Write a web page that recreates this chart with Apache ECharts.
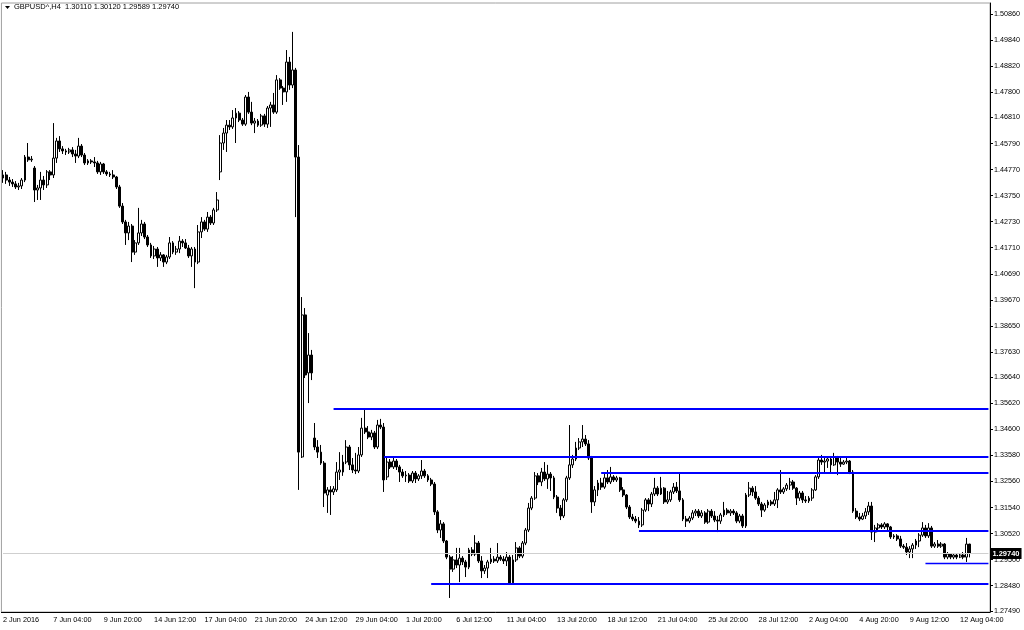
<!DOCTYPE html>
<html>
<head>
<meta charset="utf-8">
<title>GBPUSD^,H4</title>
<script src="https://cdn.jsdelivr.net/npm/echarts@6/dist/echarts.min.js"></script>
<style>
html, body { margin: 0; padding: 0; background: #fff; }
#main { width: 1024px; height: 630px; }
</style>
</head>
<body>
<div id="main"></div>
<script>
var symbolName = 'GBPUSD^,H4';

// every 16th H4 bar gets a time label, bar 0 = 2 Jun 2016 12:00
var timeLabels = ['2 Jun 2016', '7 Jun 04:00', '9 Jun 20:00', '14 Jun 12:00', '17 Jun 04:00',
  '21 Jun 20:00', '24 Jun 12:00', '29 Jun 04:00', '1 Jul 20:00', '6 Jul 12:00',
  '11 Jul 04:00', '13 Jul 20:00', '18 Jul 12:00', '21 Jul 04:00', '25 Jul 20:00',
  '28 Jul 12:00', '2 Aug 04:00', '4 Aug 20:00', '9 Aug 12:00', '12 Aug 04:00'];

var priceTicks = [1.27490, 1.28480, 1.29500, 1.30520, 1.31540, 1.32560, 1.33580, 1.34600,
  1.35620, 1.36640, 1.37630, 1.38650, 1.39670, 1.40690, 1.41710, 1.42730, 1.43750,
  1.44770, 1.45790, 1.46810, 1.47800, 1.48820, 1.49840, 1.50860];

var bid = 1.29740;

// horizontal support / resistance lines and the bar they start from
var levels       = [1.3540, 1.3352, 1.3289, 1.3064, 1.2937, 1.2855];
var levelFromBar = [105, 121, 190, 202, 293, 136];

// open, high, low, close
var ohlc = [
  [1.4444,1.4475,1.4425,1.4456],[1.4456,1.4468,1.4421,1.4436],[1.4436,1.4448,1.4413,1.4428],[1.4428,1.4440,1.4409,1.4421],
  [1.4421,1.4432,1.4401,1.4409],[1.4409,1.4425,1.4397,1.4413],[1.4413,1.4444,1.4401,1.4436],[1.4436,1.4534,1.4428,1.4526],
  [1.4526,1.4581,1.4507,1.4515],[1.4515,1.4530,1.4507,1.4518],[1.4483,1.4491,1.4350,1.4397],[1.4397,1.4417,1.4358,1.4405],
  [1.4405,1.4468,1.4358,1.4436],[1.4436,1.4452,1.4397,1.4417],[1.4417,1.4475,1.4405,1.4468],[1.4468,1.4475,1.4436,1.4456],
  [1.4456,1.4659,1.4444,1.4522],[1.4522,1.4601,1.4503,1.4589],[1.4589,1.4608,1.4546,1.4558],[1.4558,1.4569,1.4538,1.4550],
  [1.4550,1.4558,1.4534,1.4546],[1.4546,1.4562,1.4538,1.4554],[1.4554,1.4565,1.4526,1.4538],[1.4538,1.4554,1.4503,1.4530],
  [1.4530,1.4601,1.4522,1.4569],[1.4569,1.4577,1.4526,1.4534],[1.4534,1.4542,1.4495,1.4503],[1.4503,1.4518,1.4495,1.4511],
  [1.4511,1.4518,1.4499,1.4507],[1.4507,1.4526,1.4487,1.4503],[1.4503,1.4511,1.4460,1.4468],[1.4468,1.4507,1.4456,1.4499],
  [1.4499,1.4503,1.4460,1.4468],[1.4468,1.4475,1.4452,1.4460],[1.4460,1.4468,1.4448,1.4456],[1.4456,1.4475,1.4440,1.4448],
  [1.4448,1.4452,1.4401,1.4409],[1.4409,1.4417,1.4327,1.4334],[1.4334,1.4346,1.4264,1.4272],[1.4272,1.4280,1.4182,1.4229],
  [1.4229,1.4272,1.4201,1.4256],[1.4256,1.4264,1.4115,1.4154],[1.4154,1.4201,1.4143,1.4190],[1.4190,1.4327,1.4182,1.4229],
  [1.4229,1.4280,1.4217,1.4264],[1.4264,1.4272,1.4205,1.4213],[1.4213,1.4221,1.4174,1.4182],[1.4182,1.4190,1.4131,1.4139],
  [1.4139,1.4178,1.4127,1.4166],[1.4166,1.4174,1.4096,1.4131],[1.4131,1.4154,1.4119,1.4143],[1.4143,1.4146,1.4096,1.4115],
  [1.4115,1.4143,1.4107,1.4135],[1.4135,1.4213,1.4127,1.4190],[1.4190,1.4197,1.4146,1.4154],[1.4154,1.4178,1.4143,1.4166],
  [1.4166,1.4217,1.4150,1.4197],[1.4197,1.4205,1.4174,1.4190],[1.4190,1.4205,1.4166,1.4170],[1.4170,1.4182,1.4131,1.4139],
  [1.4139,1.4174,1.4096,1.4166],[1.4166,1.4174,1.4013,1.4115],[1.4115,1.4260,1.4107,1.4233],[1.4233,1.4291,1.4209,1.4272],
  [1.4272,1.4280,1.4237,1.4244],[1.4244,1.4311,1.4233,1.4291],[1.4291,1.4299,1.4260,1.4268],[1.4268,1.4327,1.4260,1.4319],
  [1.4319,1.4389,1.4311,1.4358],[1.4468,1.4612,1.4436,1.4581],[1.4581,1.4640,1.4554,1.4620],[1.4620,1.4671,1.4546,1.4651],
  [1.4651,1.4671,1.4632,1.4644],[1.4644,1.4710,1.4636,1.4679],[1.4679,1.4718,1.4581,1.4698],[1.4698,1.4706,1.4663,1.4671],
  [1.4671,1.4679,1.4648,1.4655],[1.4655,1.4769,1.4648,1.4761],[1.4761,1.4781,1.4695,1.4702],[1.4702,1.4742,1.4651,1.4659],
  [1.4659,1.4679,1.4620,1.4667],[1.4667,1.4675,1.4644,1.4651],[1.4651,1.4695,1.4644,1.4687],[1.4687,1.4695,1.4644,1.4655],
  [1.4655,1.4726,1.4640,1.4718],[1.4718,1.4742,1.4644,1.4730],[1.4730,1.4777,1.4695,1.4702],[1.4702,1.4847,1.4695,1.4828],
  [1.4828,1.4835,1.4789,1.4796],[1.4796,1.4804,1.4730,1.4781],[1.4781,1.4945,1.4742,1.4898],[1.4898,1.4918,1.4789,1.4808],
  [1.4808,1.5016,1.4796,1.4867],[1.4867,1.4875,1.4291,1.4526],[1.4526,1.4573,1.3223,1.3371],[1.3352,1.3978,1.3348,1.3908],
  [1.3908,1.3935,1.3661,1.3673],[1.3681,1.3837,1.3563,1.3751],[1.3751,1.3771,1.3653,1.3681],[1.3426,1.3485,1.3379,1.3391],
  [1.3391,1.3418,1.3348,1.3371],[1.3371,1.3399,1.3321,1.3328],[1.3328,1.3336,1.3156,1.3211],[1.3203,1.3234,1.3133,1.3223],
  [1.3223,1.3238,1.3125,1.3215],[1.3215,1.3238,1.3203,1.3227],[1.3223,1.3332,1.3215,1.3293],[1.3293,1.3371,1.3262,1.3301],
  [1.3293,1.3360,1.3278,1.3332],[1.3332,1.3418,1.3324,1.3391],[1.3391,1.3399,1.3301,1.3321],[1.3321,1.3348,1.3289,1.3301],
  [1.3301,1.3368,1.3285,1.3297],[1.3297,1.3391,1.3289,1.3360],[1.3360,1.3505,1.3352,1.3465],[1.3465,1.3536,1.3442,1.3450],
  [1.3450,1.3473,1.3422,1.3430],[1.3430,1.3458,1.3418,1.3446],[1.3446,1.3454,1.3383,1.3391],[1.3391,1.3497,1.3383,1.3477],
  [1.3477,1.3501,1.3461,1.3469],[1.3469,1.3485,1.3215,1.3262],[1.3274,1.3348,1.3262,1.3332],[1.3332,1.3344,1.3305,1.3313],
  [1.3313,1.3348,1.3305,1.3336],[1.3336,1.3344,1.3301,1.3313],[1.3313,1.3321,1.3254,1.3293],[1.3293,1.3305,1.3270,1.3278],
  [1.3278,1.3297,1.3254,1.3281],[1.3281,1.3289,1.3250,1.3258],[1.3258,1.3297,1.3250,1.3289],[1.3289,1.3297,1.3250,1.3266],
  [1.3266,1.3285,1.3258,1.3278],[1.3278,1.3340,1.3266,1.3297],[1.3297,1.3305,1.3270,1.3278],[1.3278,1.3285,1.3254,1.3262],
  [1.3262,1.3270,1.3238,1.3246],[1.3246,1.3254,1.3125,1.3137],[1.3137,1.3144,1.3054,1.3066],[1.3066,1.3105,1.3035,1.3090],
  [1.3090,1.3097,1.3015,1.3023],[1.3023,1.3027,1.2952,1.2960],[1.2960,1.2968,1.2800,1.2913],[1.2913,1.2964,1.2902,1.2949],
  [1.2949,1.2996,1.2917,1.2929],[1.2929,1.2996,1.2862,1.2956],[1.2956,1.2964,1.2929,1.2941],[1.2941,1.2949,1.2882,1.2921],
  [1.2921,1.2996,1.2913,1.2988],[1.2988,1.2999,1.2964,1.2972],[1.2972,1.3046,1.2964,1.3015],[1.3015,1.3023,1.2937,1.2945],
  [1.2945,1.2964,1.2878,1.2906],[1.2906,1.2929,1.2894,1.2917],[1.2917,1.2949,1.2878,1.2941],[1.2941,1.2996,1.2933,1.2952],
  [1.2952,1.2964,1.2937,1.2945],[1.2945,1.3015,1.2937,1.2960],[1.2960,1.2968,1.2945,1.2952],[1.2952,1.2964,1.2933,1.2945],
  [1.2945,1.2980,1.2925,1.2960],[1.2960,1.2968,1.2851,1.2859],[1.2859,1.2968,1.2851,1.2949],[1.2949,1.3019,1.2941,1.2996],
  [1.2996,1.3003,1.2956,1.2964],[1.2964,1.3023,1.2956,1.3015],[1.3015,1.3074,1.3007,1.3066],[1.3066,1.3172,1.3058,1.3152],
  [1.3152,1.3199,1.3144,1.3191],[1.3191,1.3293,1.3184,1.3278],[1.3278,1.3289,1.3242,1.3254],[1.3254,1.3309,1.3238,1.3293],
  [1.3293,1.3332,1.3258,1.3266],[1.3266,1.3321,1.3227,1.3285],[1.3285,1.3293,1.3219,1.3270],[1.3270,1.3278,1.3187,1.3195],
  [1.3195,1.3203,1.3133,1.3152],[1.3152,1.3164,1.3105,1.3121],[1.3121,1.3191,1.3113,1.3184],[1.3184,1.3278,1.3176,1.3270],
  [1.3270,1.3477,1.3262,1.3321],[1.3321,1.3360,1.3309,1.3344],[1.3344,1.3411,1.3336,1.3387],[1.3387,1.3426,1.3379,1.3411],
  [1.3411,1.3477,1.3391,1.3422],[1.3422,1.3438,1.3395,1.3403],[1.3403,1.3418,1.3340,1.3348],[1.3348,1.3356,1.3133,1.3176],
  [1.3176,1.3238,1.3160,1.3223],[1.3223,1.3262,1.3199,1.3250],[1.3250,1.3270,1.3223,1.3234],[1.3234,1.3289,1.3227,1.3270],
  [1.3270,1.3301,1.3246,1.3254],[1.3254,1.3313,1.3246,1.3274],[1.3274,1.3281,1.3254,1.3262],[1.3262,1.3278,1.3254,1.3270],
  [1.3270,1.3274,1.3215,1.3223],[1.3223,1.3234,1.3195,1.3203],[1.3203,1.3207,1.3148,1.3156],[1.3156,1.3164,1.3109,1.3117],
  [1.3117,1.3129,1.3101,1.3109],[1.3109,1.3121,1.3093,1.3101],[1.3101,1.3117,1.3074,1.3086],[1.3086,1.3152,1.3078,1.3144],
  [1.3144,1.3191,1.3137,1.3184],[1.3184,1.3191,1.3140,1.3168],[1.3168,1.3215,1.3156,1.3207],[1.3207,1.3270,1.3199,1.3230],
  [1.3230,1.3238,1.3199,1.3207],[1.3207,1.3274,1.3203,1.3230],[1.3230,1.3234,1.3168,1.3176],[1.3176,1.3219,1.3168,1.3184],
  [1.3184,1.3223,1.3176,1.3215],[1.3215,1.3250,1.3207,1.3234],[1.3234,1.3254,1.3211,1.3219],[1.3219,1.3289,1.3176,1.3184],
  [1.3184,1.3191,1.3101,1.3109],[1.3109,1.3121,1.3078,1.3101],[1.3101,1.3121,1.3093,1.3113],[1.3113,1.3144,1.3105,1.3133],
  [1.3133,1.3148,1.3121,1.3140],[1.3140,1.3148,1.3113,1.3121],[1.3121,1.3144,1.3113,1.3133],[1.3133,1.3140,1.3090,1.3097],
  [1.3097,1.3148,1.3090,1.3140],[1.3140,1.3148,1.3113,1.3121],[1.3121,1.3140,1.3097,1.3105],[1.3105,1.3121,1.3058,1.3101],
  [1.3101,1.3133,1.3090,1.3125],[1.3125,1.3176,1.3117,1.3144],[1.3144,1.3152,1.3125,1.3133],[1.3133,1.3148,1.3121,1.3140],
  [1.3140,1.3148,1.3125,1.3133],[1.3133,1.3140,1.3093,1.3101],[1.3101,1.3129,1.3093,1.3121],[1.3121,1.3129,1.3074,1.3082],
  [1.3082,1.3211,1.3074,1.3203],[1.3203,1.3254,1.3195,1.3230],[1.3230,1.3238,1.3199,1.3215],[1.3215,1.3238,1.3184,1.3191],
  [1.3191,1.3199,1.3160,1.3168],[1.3168,1.3176,1.3117,1.3144],[1.3144,1.3172,1.3137,1.3164],[1.3164,1.3184,1.3152,1.3176],
  [1.3176,1.3184,1.3160,1.3168],[1.3168,1.3215,1.3160,1.3184],[1.3184,1.3230,1.3152,1.3223],[1.3223,1.3301,1.3207,1.3215],
  [1.3215,1.3234,1.3207,1.3227],[1.3227,1.3250,1.3219,1.3242],[1.3242,1.3270,1.3223,1.3254],[1.3254,1.3262,1.3223,1.3230],
  [1.3230,1.3234,1.3164,1.3191],[1.3191,1.3219,1.3180,1.3211],[1.3211,1.3219,1.3172,1.3184],[1.3184,1.3199,1.3172,1.3180],
  [1.3180,1.3199,1.3172,1.3191],[1.3191,1.3230,1.3180,1.3223],[1.3223,1.3281,1.3219,1.3274],[1.3274,1.3352,1.3266,1.3340],
  [1.3340,1.3360,1.3321,1.3332],[1.3332,1.3348,1.3289,1.3336],[1.3336,1.3352,1.3309,1.3344],[1.3344,1.3352,1.3289,1.3321],
  [1.3321,1.3368,1.3317,1.3352],[1.3352,1.3356,1.3281,1.3332],[1.3332,1.3348,1.3313,1.3324],[1.3324,1.3340,1.3321,1.3332],
  [1.3332,1.3348,1.3324,1.3336],[1.3336,1.3340,1.3285,1.3293],[1.3293,1.3301,1.3133,1.3140],[1.3140,1.3152,1.3109,1.3117],
  [1.3117,1.3133,1.3101,1.3109],[1.3109,1.3133,1.3105,1.3121],[1.3121,1.3152,1.3109,1.3137],[1.3137,1.3176,1.3125,1.3160],
  [1.3160,1.3176,1.3027,1.3058],[1.3058,1.3086,1.3019,1.3074],[1.3074,1.3093,1.3058,1.3086],[1.3086,1.3093,1.3070,1.3078],
  [1.3078,1.3097,1.3070,1.3090],[1.3090,1.3093,1.3066,1.3078],[1.3078,1.3082,1.3031,1.3039],[1.3039,1.3050,1.3031,1.3043],
  [1.3043,1.3050,1.3023,1.3031],[1.3031,1.3043,1.2996,1.3003],[1.3003,1.3011,1.2992,1.2999],[1.2999,1.3015,1.2968,1.2980],
  [1.2980,1.3003,1.2956,1.2992],[1.2992,1.3015,1.2956,1.3007],[1.3007,1.3031,1.2992,1.3023],[1.3023,1.3054,1.2999,1.3046],
  [1.3046,1.3097,1.3039,1.3074],[1.3074,1.3086,1.3035,1.3043],[1.3043,1.3093,1.3035,1.3074],[1.3074,1.3082,1.2996,1.3003],
  [1.3003,1.3019,1.2996,1.3011],[1.3011,1.3027,1.2996,1.3003],[1.3003,1.3019,1.2996,1.3011],[1.3011,1.3015,1.2952,1.2960],
  [1.2960,1.2980,1.2952,1.2972],[1.2972,1.2976,1.2952,1.2960],[1.2960,1.2976,1.2952,1.2968],[1.2968,1.2972,1.2952,1.2960],
  [1.2960,1.2976,1.2956,1.2968],[1.2968,1.2980,1.2952,1.2960],[1.2960,1.3035,1.2941,1.3011],[1.30110,1.30120,1.29589,1.29740]
];

var barSlots = 314;   // chart keeps a small empty margin after the last bar
var font = 'Liberation Sans, Arial, sans-serif';

var slots = [];
for (var i = 0; i < barSlots; i++) slots.push(i);

var candles = ohlc.map(function (r) { return [r[0], r[3], r[2], r[1]]; });
var last = ohlc[ohlc.length - 1];
var header = symbolName + '  ' + last.map(function (v) { return v.toFixed(5); }).join(' ');

var lines = [];
// current bid line, drawn first so the levels sit on top of it
lines.push([
  {
    coord: [0, bid],
    lineStyle: { color: '#cfcfcf', width: 1, type: 'solid' },
    label: {
      show: true, position: 'end', distance: 2,
      formatter: bid.toFixed(5),
      color: '#fff', backgroundColor: '#000', padding: [2, 2, 1, 2],
      fontSize: 7.5, fontFamily: font, fontWeight: 'bold'
    }
  },
  { coord: [barSlots - 1, bid] }
]);
for (var k = 0; k < levels.length; k++) {
  lines.push([
    { coord: [levelFromBar[k], levels[k]], lineStyle: { color: '#0000ff', width: k === 4 ? 1.3 : 2, type: 'solid' }, label: { show: false } },
    { coord: [barSlots - 1, levels[k]] }
  ]);
}

var isLabelBar = function (idx) { return idx % 16 === 0 && idx / 16 < timeLabels.length; };

var myChart = echarts.init(document.getElementById('main'));
myChart.setOption({
  animation: false,
  backgroundColor: '#fff',
  graphic: [
    { type: 'polygon', shape: { points: [[5, 6], [10, 6], [7.5, 9]] }, style: { fill: '#000' } },
    { type: 'text', left: 14, top: 3, style: { text: header, fill: '#000', font: '7.5px ' + font } }
  ],
  grid: {
    left: 1, right: 34, top: 3, bottom: 18,
    show: true, borderColor: '#a0a0a0', borderWidth: 1
  },
  xAxis: {
    type: 'category',
    data: slots,
    boundaryGap: true,
    axisLine: { lineStyle: { color: '#000', width: 1 } },
    axisTick: { alignWithLabel: true, interval: isLabelBar, length: 3, lineStyle: { color: '#000' } },
    axisLabel: {
      interval: isLabelBar,
      align: 'left', margin: 4,
      color: '#000', fontSize: 7.3, fontFamily: font,
      formatter: function (v, idx) { return timeLabels[idx / 16]; }
    },
    splitLine: { show: false }
  },
  yAxis: {
    type: 'value',
    position: 'right',
    min: 1.27451,
    max: 1.51291,
    scale: true,
    axisLine: { show: true, lineStyle: { color: '#000', width: 1 } },
    axisTick: { show: true, inside: false, length: 3, customValues: priceTicks, lineStyle: { color: '#000' } },
    axisLabel: {
      customValues: priceTicks,
      margin: 4,
      color: '#000', fontSize: 7.2, fontFamily: font,
      formatter: function (v) { return v.toFixed(5); }
    },
    splitLine: { show: false }
  },
  series: [{
    type: 'candlestick',
    data: candles,
    barWidth: 2.4,
    itemStyle: {
      color: '#ffffff', color0: '#000000',
      borderColor: '#000000', borderColor0: '#000000',
      borderWidth: 1
    },
    markLine: {
      silent: true,
      symbol: ['none', 'none'],
      animation: false,
      data: lines
    }
  }]
});
</script>
</body>
</html>
